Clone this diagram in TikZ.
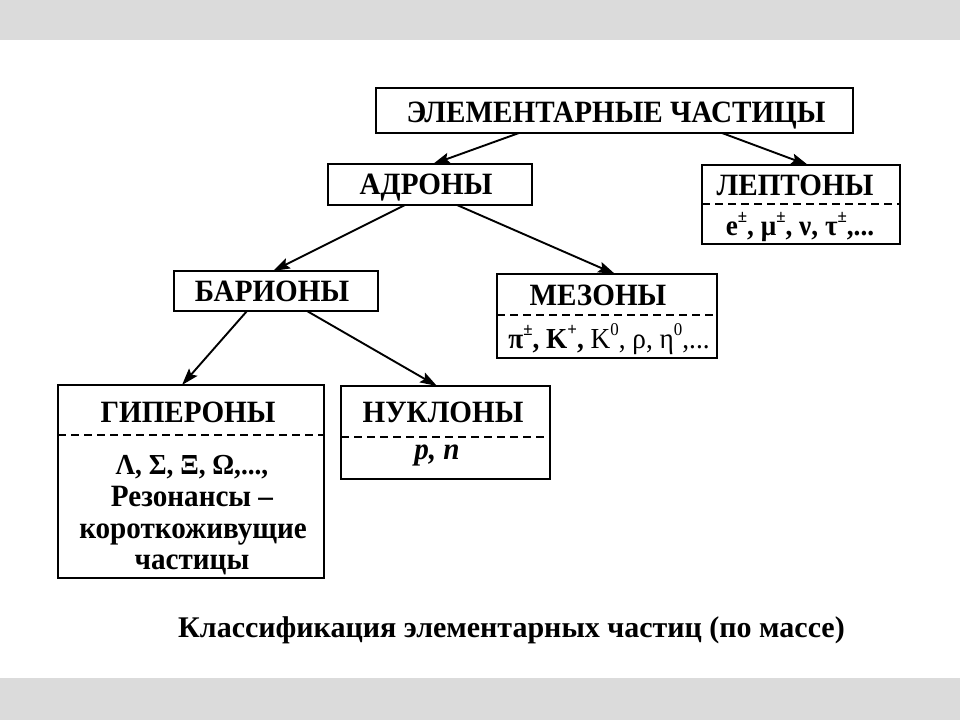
\documentclass[tikz,border=0pt]{standalone}
\usepackage{fontspec}
\setmainfont{Liberation Serif}[BoldFont={Liberation Serif Bold},ItalicFont={Liberation Serif Italic},BoldItalicFont={Liberation Serif Bold Italic}]
\newfontfamily\boxfont{Liberation Serif}[FakeStretch=0.94,BoldFont={Liberation Serif Bold},BoldItalicFont={Liberation Serif Bold Italic}]
\usetikzlibrary{arrows.meta}
\newcommand\upidx[1]{\raisebox{0.42em}{\fontsize{18}{18}\selectfont #1}}
\tikzset{
  box/.style={draw, line width=2pt, inner sep=0pt, outer sep=0pt},
  ttl/.style={font=\boxfont\fontsize{31}{33}\selectfont\bfseries, inner sep=0pt, anchor=base},
  cnt/.style={font=\boxfont\fontsize{29}{31}\selectfont\bfseries, inner sep=0pt, anchor=base},
  cntl/.style={font=\boxfont\fontsize{31}{33}\selectfont\bfseries, inner sep=0pt, anchor=base},
  arr/.style={-{Stealth[length=17pt,width=11pt,inset=3pt]}, line width=1.9pt},
  divider/.style={line width=1.6pt, dash pattern=on 8pt off 5pt},
  band/.style={fill=black!14, draw=none},
  capt/.style={font=\fontsize{30}{32}\selectfont\bfseries, inner sep=0pt, anchor=base},
}
\begin{document}
\begin{tikzpicture}[x=1pt,y=-1pt]
\useasboundingbox (0,0) rectangle (960,720);
\fill[white] (0,0) rectangle (960,720);
\path[band] (0,0) rectangle (960,40);
\path[band] (0,678) rectangle (960,720);

% boxes
\node[box, minimum width=477pt, minimum height=45pt] (top) at (614.5,110.5) {};
\node[box, minimum width=204pt, minimum height=41pt] (adr) at (430,184.5) {};
\node[box, minimum width=198pt, minimum height=79pt] (lep) at (801,204.5) {};
\node[box, minimum width=204pt, minimum height=40pt] (bar) at (276,291) {};
\node[box, minimum width=220pt, minimum height=84pt] (mez) at (607,316) {};
\node[box, minimum width=266pt, minimum height=193pt] (hyp) at (191,481.5) {};
\node[box, minimum width=209pt, minimum height=93pt] (nuk) at (445.5,432.5) {};

% dashed dividers
\draw[divider] ([yshift=-39pt]lep.north west) -- ([yshift=-39pt]lep.north east);
\draw[divider] ([yshift=-41pt]mez.north west) -- ([yshift=-41pt]mez.north east);
\draw[divider] ([yshift=-50pt]hyp.north west) -- ([yshift=-50pt]hyp.north east);
\draw[divider] ([yshift=-51pt]nuk.north west) -- ([yshift=-51pt]nuk.north east);

% texts
\node[ttl] (topT) at (616,122) {ЭЛЕМЕНТАРНЫЕ ЧАСТИЦЫ};
\node[ttl] (adrT) at (426,194) {АДРОНЫ};
\node[ttl] (lepT) at (795,195) {ЛЕПТОНЫ};
\node[cnt] (lepC) at (800,235) {e\upidx{±}, μ\upidx{±}, ν, τ\upidx{±},...};
\node[ttl] (barT) at (272,301) {БАРИОНЫ};
\node[ttl] (mezT) at (598,305) {МЕЗОНЫ};
\node[cnt] (mezC) at (609,348) {π\upidx{±}, K\upidx{+}, \mdseries K\upidx{0}, ρ, η\upidx{0},...};
\node[ttl] (hypT) at (188,422) {ГИПЕРОНЫ};
\node[cnt] (hypC1) at (192,474) {Λ, Σ, Ξ, Ω,...,};
\node[cntl] (hypC2) at (192,506) {Резонансы –};
\node[cntl] (hypC3) at (193,538) {короткоживущие};
\node[cntl] (hypC4) at (192,569) {частицы};
\node[ttl] (nukT) at (443,422) {НУКЛОНЫ};
\node[cntl] (nukC) at (437,459) {\itshape p, n};

\node[capt] (cap) at (511.5,637) {Классификация элементарных частиц (по массе)};

% arrows
\draw[arr] ([xshift=143pt]top.south west) -- ([xshift=105pt]adr.north west);
\draw[arr] ([xshift=346pt]top.south west) -- ([xshift=106pt]lep.north west);
\draw[arr] ([xshift=77pt]adr.south west) -- ([xshift=99pt]bar.north west);
\draw[arr] ([xshift=129pt]adr.south west) -- ([xshift=118pt]mez.north west);
\draw[arr] ([xshift=73pt]bar.south west) -- ([xshift=124pt]hyp.north west);
\draw[arr] ([xshift=133pt]bar.south west) -- ([xshift=96pt]nuk.north west);
\end{tikzpicture}
\end{document}
